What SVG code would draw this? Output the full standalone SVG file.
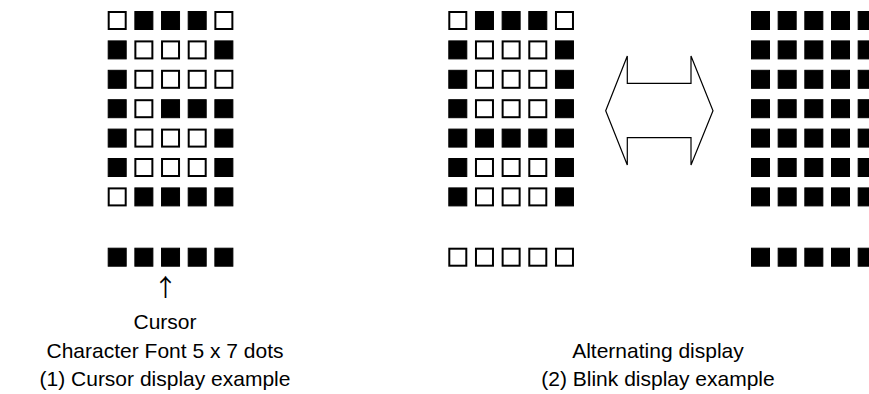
<svg xmlns="http://www.w3.org/2000/svg" width="869" height="394" viewBox="0 0 869 394">
<defs>
<style>
.on{fill:#000;stroke:#000;stroke-width:1}
.off{fill:#fff;stroke:#000;stroke-width:2}
.t{font-family:"Liberation Sans",Arial,sans-serif;font-size:21px;fill:#000;text-anchor:middle}
.up{font-family:"Noto Sans CJK JP","DejaVu Sans",sans-serif;font-size:24px;fill:#000;text-anchor:middle}
.arr{fill:#fff;stroke:#000;stroke-width:1.2;stroke-linejoin:miter}
</style>
<rect id="d" x="0.5" y="0.5" width="18" height="18" class="on"/>
<rect id="o" x="1" y="1" width="17" height="17" class="off"/>
</defs>
<rect width="869" height="394" fill="#fff"/>
<g id="grid-cursor" transform="translate(107.7,11)">
<use href="#o" x="0" y="0"/><use href="#d" x="26.67" y="0"/><use href="#d" x="53.33" y="0"/><use href="#d" x="80" y="0"/><use href="#o" x="106.67" y="0"/>
<use href="#d" x="0" y="29.4"/><use href="#o" x="26.67" y="29.4"/><use href="#o" x="53.33" y="29.4"/><use href="#o" x="80" y="29.4"/><use href="#d" x="106.67" y="29.4"/>
<use href="#d" x="0" y="58.8"/><use href="#o" x="26.67" y="58.8"/><use href="#o" x="53.33" y="58.8"/><use href="#o" x="80" y="58.8"/><use href="#o" x="106.67" y="58.8"/>
<use href="#d" x="0" y="88.2"/><use href="#o" x="26.67" y="88.2"/><use href="#d" x="53.33" y="88.2"/><use href="#d" x="80" y="88.2"/><use href="#d" x="106.67" y="88.2"/>
<use href="#d" x="0" y="117.6"/><use href="#o" x="26.67" y="117.6"/><use href="#o" x="53.33" y="117.6"/><use href="#o" x="80" y="117.6"/><use href="#d" x="106.67" y="117.6"/>
<use href="#d" x="0" y="147"/><use href="#o" x="26.67" y="147"/><use href="#o" x="53.33" y="147"/><use href="#o" x="80" y="147"/><use href="#d" x="106.67" y="147"/>
<use href="#o" x="0" y="176.4"/><use href="#d" x="26.67" y="176.4"/><use href="#d" x="53.33" y="176.4"/><use href="#d" x="80" y="176.4"/><use href="#d" x="106.67" y="176.4"/>
<use href="#d" x="0" y="236.7"/><use href="#d" x="26.67" y="236.7"/><use href="#d" x="53.33" y="236.7"/><use href="#d" x="80" y="236.7"/><use href="#d" x="106.67" y="236.7"/>
</g>
<g id="grid-blink-a" transform="translate(448.3,11)">
<use href="#o" x="0" y="0"/><use href="#d" x="26.67" y="0"/><use href="#d" x="53.33" y="0"/><use href="#d" x="80" y="0"/><use href="#o" x="106.67" y="0"/>
<use href="#d" x="0" y="29.4"/><use href="#o" x="26.67" y="29.4"/><use href="#o" x="53.33" y="29.4"/><use href="#o" x="80" y="29.4"/><use href="#d" x="106.67" y="29.4"/>
<use href="#d" x="0" y="58.8"/><use href="#o" x="26.67" y="58.8"/><use href="#o" x="53.33" y="58.8"/><use href="#o" x="80" y="58.8"/><use href="#d" x="106.67" y="58.8"/>
<use href="#d" x="0" y="88.2"/><use href="#o" x="26.67" y="88.2"/><use href="#o" x="53.33" y="88.2"/><use href="#o" x="80" y="88.2"/><use href="#d" x="106.67" y="88.2"/>
<use href="#d" x="0" y="117.6"/><use href="#d" x="26.67" y="117.6"/><use href="#d" x="53.33" y="117.6"/><use href="#d" x="80" y="117.6"/><use href="#d" x="106.67" y="117.6"/>
<use href="#d" x="0" y="147"/><use href="#o" x="26.67" y="147"/><use href="#o" x="53.33" y="147"/><use href="#o" x="80" y="147"/><use href="#d" x="106.67" y="147"/>
<use href="#d" x="0" y="176.4"/><use href="#o" x="26.67" y="176.4"/><use href="#o" x="53.33" y="176.4"/><use href="#o" x="80" y="176.4"/><use href="#d" x="106.67" y="176.4"/>
<use href="#o" x="0" y="236.7"/><use href="#o" x="26.67" y="236.7"/><use href="#o" x="53.33" y="236.7"/><use href="#o" x="80" y="236.7"/><use href="#o" x="106.67" y="236.7"/>
</g>
<g id="grid-blink-b" transform="translate(751,11)">
<use href="#d" x="0" y="0"/><use href="#d" x="26.67" y="0"/><use href="#d" x="53.33" y="0"/><use href="#d" x="80" y="0"/><use href="#d" x="106.67" y="0"/>
<use href="#d" x="0" y="29.4"/><use href="#d" x="26.67" y="29.4"/><use href="#d" x="53.33" y="29.4"/><use href="#d" x="80" y="29.4"/><use href="#d" x="106.67" y="29.4"/>
<use href="#d" x="0" y="58.8"/><use href="#d" x="26.67" y="58.8"/><use href="#d" x="53.33" y="58.8"/><use href="#d" x="80" y="58.8"/><use href="#d" x="106.67" y="58.8"/>
<use href="#d" x="0" y="88.2"/><use href="#d" x="26.67" y="88.2"/><use href="#d" x="53.33" y="88.2"/><use href="#d" x="80" y="88.2"/><use href="#d" x="106.67" y="88.2"/>
<use href="#d" x="0" y="117.6"/><use href="#d" x="26.67" y="117.6"/><use href="#d" x="53.33" y="117.6"/><use href="#d" x="80" y="117.6"/><use href="#d" x="106.67" y="117.6"/>
<use href="#d" x="0" y="147"/><use href="#d" x="26.67" y="147"/><use href="#d" x="53.33" y="147"/><use href="#d" x="80" y="147"/><use href="#d" x="106.67" y="147"/>
<use href="#d" x="0" y="176.4"/><use href="#d" x="26.67" y="176.4"/><use href="#d" x="53.33" y="176.4"/><use href="#d" x="80" y="176.4"/><use href="#d" x="106.67" y="176.4"/>
<use href="#d" x="0" y="236.7"/><use href="#d" x="26.67" y="236.7"/><use href="#d" x="53.33" y="236.7"/><use href="#d" x="80" y="236.7"/><use href="#d" x="106.67" y="236.7"/>
</g>
<g id="connectors">
<path id="alternate-arrow" class="arr" d="M605.7,110.7 L627.3,56 L627.3,83.3 L691,83.3 L691,56 L713,110.7 L691,165 L691,137.7 L627.3,137.7 L627.3,165 Z"/>
</g>
<g id="labels">
<text class="up" x="165.5" y="296">↑</text>
<text class="t" x="165" y="329">Cursor</text>
<text class="t" x="165" y="358">Character Font 5 x 7 dots</text>
<text class="t" x="165" y="386">(1) Cursor display example</text>
<text class="t" x="658" y="358">Alternating display</text>
<text class="t" x="658" y="386">(2) Blink display example</text>
</g>
</svg>
